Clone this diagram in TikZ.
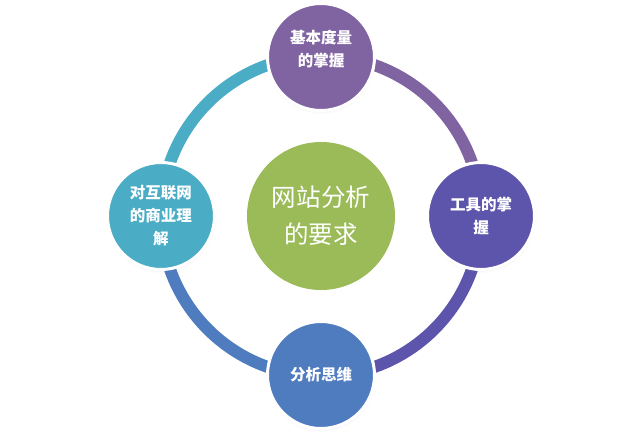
\documentclass[tikz,border=0pt]{standalone}
\usepackage{fontspec}
\usepackage{tikz}
\usetikzlibrary{shadows}
\newfontfamily\cjk{Noto Sans CJK SC}
\definecolor{ringgreen}{HTML}{9BBB59}
\definecolor{ringpurple}{HTML}{8064A2}
\definecolor{ringindigo}{HTML}{5D55AB}
\definecolor{ringblue}{HTML}{4F7BBF}
\definecolor{ringcyan}{HTML}{4BACC6}

\begin{document}
\begin{tikzpicture}[x=1pt,y=1pt,
  ring/.style={line width=12pt,line cap=butt},
  ball/.style={circle,draw=white,line width=3pt,minimum size=107pt,inner sep=0pt,
    text=white,align=center,font=\cjk\bfseries\fontsize{15.5}{23}\selectfont,
    circular drop shadow={opacity=0.18,shadow xshift=0pt,shadow yshift=-2pt,shadow scale=1.03}},
  hub/.style={circle,fill=ringgreen,minimum size=148pt,inner sep=0pt,
    text=white,align=center,font=\cjk\fontsize{24.5}{37}\selectfont}]
\useasboundingbox (-321,-215) rectangle (321,216);
\coordinate (ptop) at (90:160);
\coordinate (pleft) at (180:160);
\coordinate (pbottom) at (270:160);
\coordinate (pright) at (0:160);
% ring segments
\draw[ring,ringcyan] (ptop) to[bend right=45] (pleft);
\draw[ring,ringblue] (pleft) to[bend right=45] (pbottom);
\draw[ring,ringindigo] (pbottom) to[bend right=45] (pright);
\draw[ring,ringpurple] (pright) to[bend right=45] (ptop);
% circles
\node[hub] (goal) at (0,0) {网站分析\\的要求};
\node[ball,fill=ringpurple] (metric) at (0,159) {基本度量\\的掌握\vphantom{g}\\[-6pt]};
\node[ball,fill=ringcyan] (biz) at (-160,0) {对互联网\\的商业理\\解};
\node[ball,fill=ringindigo] (tool) at (160,0) {工具的掌\\握};
\node[ball,fill=ringblue] (think) at (0,-159) {分析思维};
\end{tikzpicture}
\end{document}
